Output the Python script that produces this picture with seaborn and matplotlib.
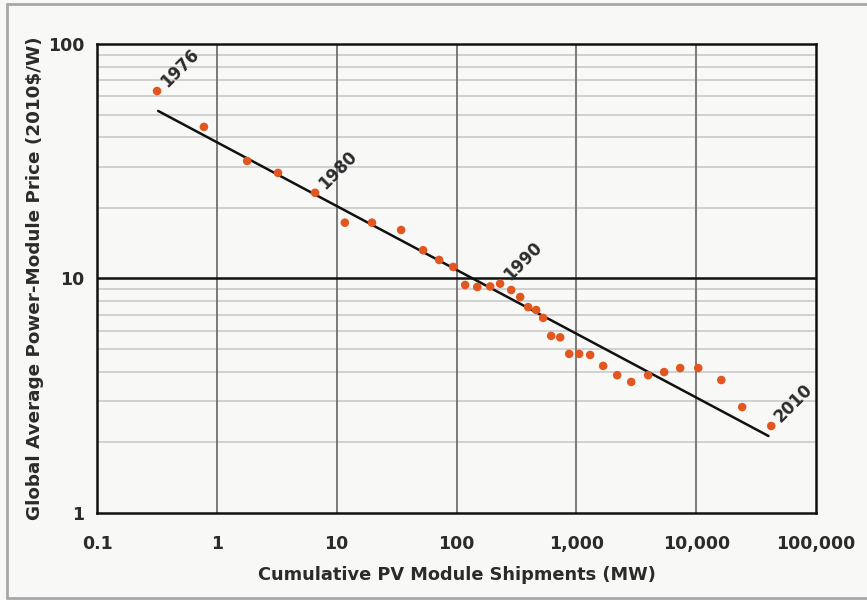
import matplotlib
matplotlib.use("Agg")
import matplotlib.pyplot as plt
import matplotlib.ticker as mticker
from matplotlib.lines import Line2D
import numpy as np
import pandas as pd
import seaborn as sns

# ---- data ----
shipments_mw = [0.317, 0.78, 1.79, 3.24, 6.6, 11.7, 19.7, 34.5, 52.6, 71.6, 93.7,
                118, 149, 191, 231, 286, 340, 396, 462, 528, 616, 733, 871, 1055,
                1303, 1674, 2191, 2869, 3973, 5404, 7352, 10400, 16200, 24200, 42300]
price_usd_w = [63.0, 44.3, 31.7, 28.2, 23.2, 17.3, 17.3, 16.1, 13.2, 12.0, 11.2,
               9.38, 9.2, 9.25, 9.5, 8.93, 8.34, 7.55, 7.34, 6.79, 5.69, 5.61, 4.77, 4.77,
               4.72, 4.24, 3.87, 3.62, 3.87, 3.99, 4.15, 4.15, 3.69, 2.83, 2.35]
years = list(range(1976, 2011))

fit_x = [0.324, 40100]
fit_y = [51.8, 2.13]

label_years = [1976, 1980, 1990, 2010]
x_ticks = [0.1, 1, 10, 100, 1000, 10000, 100000]
x_ticklabels = ["0.1", "1", "10", "100", "1,000", "10,000", "100,000"]
y_ticks = [1, 10, 100]
y_ticklabels = ["1", "10", "100"]

df = pd.DataFrame({"x": shipments_mw, "y": price_usd_w, "year": years})
fit = pd.DataFrame({"x": fit_x, "y": fit_y})

sns.set_theme(style="white")
plt.rcParams["font.family"] = ["DejaVu Sans"]

BG = "#f8f8f6"
TXT = "#2b2b2b"
fig = plt.figure(figsize=(8.67, 6.0), dpi=100, facecolor=BG)
ax = fig.add_axes([0.1119, 0.145, 0.8293, 0.7817])
ax.set_facecolor(BG)
ax.set_xscale("log")
ax.set_yscale("log")
ax.set_xlim(0.1, 100000)
ax.set_ylim(1, 100)

# grid lines
for dec in (1, 10):
    for m in range(2, 10):
        ax.axhline(dec * m, color="#d0d0d0", lw=1.4, zorder=1)
ax.axhline(10, color="#111111", lw=1.8, zorder=1.5)
for xv in x_ticks[1:-1]:
    ax.axvline(xv, color="#707070", lw=1.3, zorder=1.2)

sns.lineplot(data=fit, x="x", y="y", ax=ax, color="#111111", lw=1.8, zorder=3,
             legend=False)
sns.scatterplot(data=df, x="x", y="y", ax=ax, color="#e2561f", s=38,
                edgecolor="none", zorder=4, legend=False)

for yr in label_years:
    r = df[df.year == yr].iloc[0]
    ax.annotate(str(yr), (r.x, r.y), xytext=(9, 0), textcoords="offset points",
                rotation=45, rotation_mode="anchor", ha="left", va="bottom",
                fontsize=12, fontweight="bold", color=TXT, zorder=5)

ax.set_xticks(x_ticks)
ax.set_xticklabels(x_ticklabels)
ax.set_yticks(y_ticks)
ax.set_yticklabels(y_ticklabels)
ax.xaxis.set_minor_locator(mticker.NullLocator())
ax.yaxis.set_minor_locator(mticker.NullLocator())
ax.tick_params(axis="both", which="major", direction="out", length=5, width=1.3,
               color="#111111", labelsize=12.5, labelcolor=TXT)
ax.tick_params(axis="x", pad=11)
ax.tick_params(axis="y", pad=4)
for lab in ax.get_xticklabels() + ax.get_yticklabels():
    lab.set_fontweight("bold")

for s in ax.spines.values():
    s.set_visible(True)
    s.set_color("#111111")
    s.set_linewidth(1.8)

ax.set_xlabel("Cumulative PV Module Shipments (MW)", fontweight="bold",
              fontsize=12.8, color=TXT, labelpad=9)
ax.set_ylabel("Global Average Power-Module Price (2010$/W)", fontsize=13.2,
              fontweight="bold", color=TXT, labelpad=3)

# outer frame
fig.add_artist(Line2D([0.008, 0.008], [0.003, 0.993], transform=fig.transFigure,
                      color="#a8a8a8", lw=2))
fig.add_artist(Line2D([0.008, 1.0], [0.993, 0.993], transform=fig.transFigure,
                      color="#a8a8a8", lw=2))
fig.add_artist(Line2D([0.008, 1.0], [0.003, 0.003], transform=fig.transFigure,
                      color="#a8a8a8", lw=2))

fig.savefig("out.png", dpi=100, facecolor=BG)
